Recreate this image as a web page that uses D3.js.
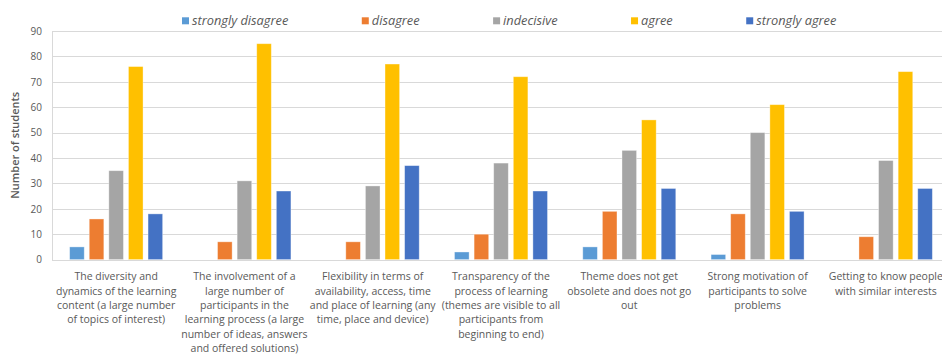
<!DOCTYPE html>
<html>
<head>
<meta charset="utf-8">
<script src="https://cdn.jsdelivr.net/npm/d3@7"></script>
<style>
  html, body { margin: 0; padding: 0; background: #fff; }
  svg { display: block; }
  text { font-family: "Open Sans", "Liberation Sans", sans-serif; fill: #595959; }
</style>
</head>
<body>
<svg id="chart" width="942" height="354"></svg>
<script>
// Category labels, already broken into lines
const categories = [
  ["The diversity and", "dynamics of the learning", "content (a large number", "of topics of interest)"],
  ["The involvement of a", "large number of", "participants in the", "learning process (a large", "number of ideas, answers", "and offered solutions)"],
  ["Flexibility in terms of", "availability, access, time", "and place of learning (any", "time, place and device)"],
  ["Transparency of the", "process of learning", "(themes are visible to all", "participants from", "beginning to end)"],
  ["Theme does not get", "obsolete and does not go", "out"],
  ["Strong motivation of", "participants to solve", "problems"],
  ["Getting to know people", "with similar interests"]
];

const seriesNames = ["strongly disagree", "disagree", "indecisive", "agree", "strongly agree"];
const seriesColors = ["#5B9BD5", "#ED7D31", "#A5A5A5", "#FFC000", "#4472C4"];

const stronglyDisagree = [5, 0, 0, 3, 5, 2, 0];
const disagree         = [16, 7, 7, 10, 19, 18, 9];
const indecisive       = [35, 31, 29, 38, 43, 50, 39];
const agree            = [76, 85, 77, 72, 55, 61, 74];
const stronglyAgree    = [18, 27, 37, 27, 28, 19, 28];

const yTicks = [0, 10, 20, 30, 40, 50, 60, 70, 80, 90];
const yTitle = "Number of students";

const seriesValues = [stronglyDisagree, disagree, indecisive, agree, stronglyAgree];

const svg = d3.select("#chart");

const plotLeft = 52, plotRight = 950, plotTop = 31, plotBottom = 259.6;

const x0 = d3.scaleBand()
  .domain(d3.range(categories.length))
  .range([plotLeft, plotRight])
  .paddingInner(0.236)
  .paddingOuter(0.118);

const x1 = d3.scaleBand()
  .domain(d3.range(seriesNames.length))
  .range([0, x0.bandwidth()])
  .paddingInner(0.255)
  .paddingOuter(0.1275);

const y = d3.scaleLinear().domain([0, 90]).range([plotBottom, plotTop]);

// gridlines
svg.append("g")
  .selectAll("line")
  .data(yTicks)
  .join("line")
  .attr("x1", plotLeft).attr("x2", plotRight)
  .attr("y1", d => Math.round(y(d)) + 0.5)
  .attr("y2", d => Math.round(y(d)) + 0.5)
  .attr("stroke", "#d9d9d9")
  .attr("stroke-width", 1);

// left axis line
svg.append("line")
  .attr("x1", plotLeft + 0.5).attr("x2", plotLeft + 0.5)
  .attr("y1", Math.round(y(90)) + 0.5).attr("y2", Math.round(y(0)) + 0.5)
  .attr("stroke", "#d9d9d9");

// y axis labels
const yAxis = svg.append("g")
  .attr("transform", `translate(${plotLeft - 10},0)`)
  .call(d3.axisLeft(y).tickValues(yTicks).tickSize(0).tickPadding(0));
yAxis.select(".domain").remove();
yAxis.selectAll("text")
  .attr("font-size", 10)
  .attr("font-family", "\"Open Sans\", sans-serif")
  .attr("fill", "#595959");

// y axis title
svg.append("text")
  .attr("transform", `translate(19,${(plotTop + plotBottom) / 2}) rotate(-90)`)
  .attr("text-anchor", "middle")
  .attr("font-size", 11)
  .attr("font-weight", 600)
  .text(yTitle);

// bars
const groups = svg.append("g")
  .selectAll("g")
  .data(categories.map((c, i) => i))
  .join("g")
  .attr("transform", i => `translate(${x0(i)},0)`);

groups.selectAll("rect")
  .data(i => seriesValues.map((vals, s) => ({ s, v: vals[i] })))
  .join("rect")
  .filter(d => d.v > 0)
  .attr("x", d => x1(d.s))
  .attr("width", x1.bandwidth())
  .attr("y", d => y(d.v))
  .attr("height", d => y(0) - y(d.v))
  .attr("fill", d => seriesColors[d.s])
  .attr("stroke", "#ffffff")
  .attr("stroke-opacity", 0.45)
  .attr("stroke-width", 0.8);

// category labels
const xAxis = svg.append("g")
  .attr("transform", `translate(0,${plotBottom})`)
  .call(d3.axisBottom(x0).tickSize(0).tickFormat(""));
xAxis.select(".domain").remove();
xAxis.selectAll(".tick").each(function (i) {
  const t = d3.select(this).append("text")
    .attr("text-anchor", "middle")
    .attr("font-size", 10.5)
    .attr("font-family", "\"Open Sans\", sans-serif")
    .attr("fill", "#595959");
  categories[i].forEach((line, k) => {
    t.append("tspan").attr("x", 0).attr("y", 20.8 + k * 14.3).text(line);
  });
});

// legend
const legend = svg.append("g");
let lx = 182;
seriesNames.forEach((name, s) => {
  const item = legend.append("g").attr("transform", `translate(${lx},0)`);
  item.append("rect")
    .attr("x", 0).attr("y", 17.3)
    .attr("width", 7).attr("height", 7)
    .attr("fill", seriesColors[s]);
  const t = item.append("text")
    .attr("x", 10).attr("y", 25)
    .attr("font-size", 12.8)
    .attr("font-style", "italic")
    .text(name);
  lx += 10 + t.node().getComputedTextLength() + 73.5;
});
</script>
</body>
</html>
